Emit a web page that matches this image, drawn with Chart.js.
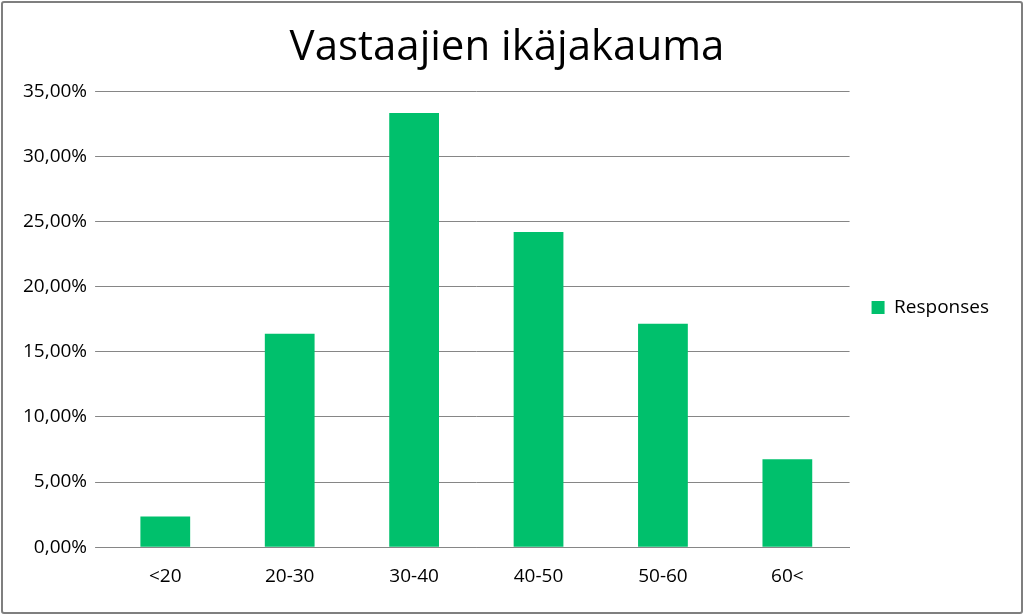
<!DOCTYPE html>
<html><head><meta charset="utf-8">
<script src="https://cdn.jsdelivr.net/npm/chart.js@4"></script>
<style>
html,body{margin:0;padding:0;background:#fff;}
#wrap{position:absolute;left:1px;top:1px;width:1018px;height:609px;border:2px solid #7f7f7f;border-radius:3px;background:#fff;}
</style></head><body>
<div id="wrap"><canvas id="c"></canvas></div>
<script>
const categories = ["<20","20-30","30-40","40-50","50-60","60<"];
const responses = [2.35, 16.4, 33.35, 24.2, 17.15, 6.75];
const seriesName = "Responses";
const chartTitle = "Vastaajien ikäjakauma";

new Chart(document.getElementById('c'), {
  type: 'bar',
  data: { labels: categories, datasets: [{ label: seriesName, data: responses, backgroundColor: '#00c06c', categoryPercentage: 0.4, barPercentage: 1 }] },
  options: {
    responsive: true, maintainAspectRatio: false, animation: false,
    layout: { padding: { left: 12, right: 22, top: 14, bottom: 14 } },
    plugins: {
      title: { display: true, text: chartTitle, color: '#000', font: { family: 'Open Sans', size: 42, weight: 'normal' }, padding: { top: 6, bottom: 18 } },
      legend: { position: 'right', labels: { boxWidth: 13, boxHeight: 13, color: '#000', font: { family: 'Open Sans', size: 19 }, padding: 22 } },
      tooltip: { enabled: false }
    },
    scales: {
      x: { grid: { display: false }, border: { color: '#868686' }, ticks: { color: '#000', padding: 10, font: { family: 'Open Sans', size: 19 } } },
      y: { min: 0, max: 35, ticks: { stepSize: 5, color: '#000', padding: 8, font: { family: 'Open Sans', size: 19 },
             callback: v => v.toFixed(2).replace('.', ',') + '%' },
           grid: { color: '#868686' }, border: { display: false } }
    }
  }
});
</script></body></html>
